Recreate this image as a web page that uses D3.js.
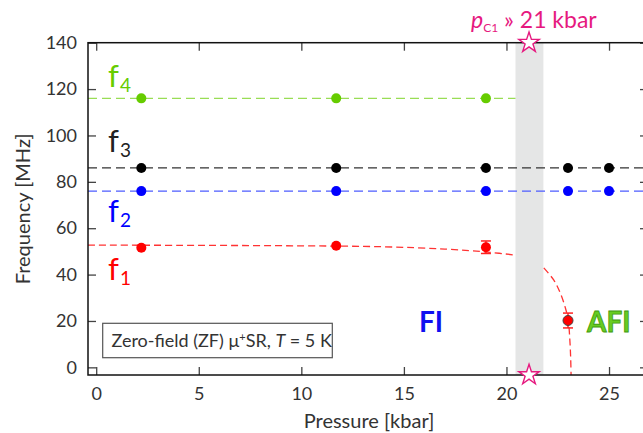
<!DOCTYPE html>
<html>
<head>
<meta charset="utf-8">
<script src="https://cdn.jsdelivr.net/npm/d3@7"></script>
<style>
  body { margin: 0; background: #fff; }
  svg { display: block; overflow: hidden; }
  text { font-family: Lato, "Open Sans", sans-serif; }
</style>
</head>
<body>
<script>
// values
const xTicks = [0, 5, 10, 15, 20, 25];
const yTicks = [0, 20, 40, 60, 80, 100, 120, 140];

const pressF4 = [2.2, 11.7, 19.0];
const valF4 = [116, 116, 116];
const pressF3 = [2.2, 11.7, 19.0, 23.0, 25.0];
const valF3 = [86, 86, 86, 86, 86];
const pressF2 = [2.2, 11.7, 19.0, 23.0, 25.0];
const valF2 = [76, 76, 76, 76, 76];
const pressF1 = [2.2, 11.7, 19.0, 23.0];
const valF1 = [51.6, 52.4, 51.8, 20.2];
const errF1 = [0, 0, 2.7, 3.2];

// fitted levels / curves
const levelF4 = 116, levelF3 = 86, levelF2 = 76;
const f1FitLowP = [-0.4, 5, 10, 14, 17, 19.2, 20.44];
const f1FitLowV = [52.7, 52.6, 52.4, 52.0, 51.0, 49.6, 48.4];
const f1FitHighP = [21.82, 22.31, 22.63, 22.88, 23.01, 23.09, 23.13, 23.15];
const f1FitHighV = [42.9, 37.6, 31.9, 25.4, 20.4, 11.8, 4.0, -3.3];

const bandRange = [20.44, 21.8];
const pc1 = 21.1;

const W = 643, H = 433;
const margin = { left: 88, top: 42.7, right: -5, bottom: 58 };
const xDomain = [-0.4, 26.9];
const yDomain = [-3.3, 140];

const svg = d3.select("body").append("svg")
    .attr("width", W)
    .attr("height", H);

const x = d3.scaleLinear().domain(xDomain).range([margin.left, W - margin.right]);
const y = d3.scaleLinear().domain(yDomain).range([H - margin.bottom, margin.top]);

// shaded transition band
svg.append("rect")
    .attr("x", x(bandRange[0]))
    .attr("y", y(yDomain[1]))
    .attr("width", x(bandRange[1]) - x(bandRange[0]))
    .attr("height", y(yDomain[0]) - y(yDomain[1]))
    .style("fill", "#e5e6e6");

// dashed fit lines
function hLine (level, x0, x1, color, dash) {
    svg.append("line")
        .attr("x1", x(x0)).attr("x2", x(x1))
        .attr("y1", y(level)).attr("y2", y(level))
        .style("stroke", color)
        .style("stroke-width", 1.4)
        .style("stroke-dasharray", dash);
}
hLine(levelF4, xDomain[0], bandRange[0], "#99dd55", "9,5");
hLine(levelF3, xDomain[0], xDomain[1], "#333", "9,5");
hLine(levelF2, xDomain[0], xDomain[1], "#4d5cff", "9,5");

var curve = d3.line()
    .x(function (d) { return x(d[0]); })
    .y(function (d) { return y(d[1]); })
    .curve(d3.curveCatmullRom);

[[f1FitLowP, f1FitLowV], [f1FitHighP, f1FitHighV]].forEach(function (s) {
    svg.append("path")
        .datum(d3.zip(s[0], s[1]))
        .attr("d", curve)
        .style("fill", "none")
        .style("stroke", "#ff3333")
        .style("stroke-width", 1.3)
        .style("stroke-dasharray", "7,4");
});

// axes (inward ticks)
const gx = svg.append("g").attr("transform", "translate(0," + y(yDomain[0]) + ")")
    .call(d3.axisBottom(x).tickValues(xTicks).tickSize(-8).tickPadding(12));
const gxTop = svg.append("g").attr("transform", "translate(0," + y(yDomain[1]) + ")")
    .call(d3.axisTop(x).tickValues(xTicks).tickSize(-8).tickFormat(""));
const gy = svg.append("g").attr("transform", "translate(" + x(xDomain[0]) + ",0)")
    .call(d3.axisLeft(y).tickValues(yTicks).tickSize(-8).tickPadding(11));
const gyRight = svg.append("g").attr("transform", "translate(" + x(xDomain[1]) + ",0)")
    .call(d3.axisRight(y).tickValues(yTicks).tickSize(-8).tickFormat(""));

[gx, gxTop, gy, gyRight].forEach(function (g) {
    g.select(".domain").remove();
    g.selectAll(".tick line").style("stroke", "#444").style("stroke-width", 1.3);
    g.selectAll(".tick text")
        .style("font-family", "Lato, sans-serif")
        .style("font-size", "18px")
        .style("fill", "#333");
});

svg.append("rect")
    .attr("x", x(xDomain[0]))
    .attr("y", y(yDomain[1]))
    .attr("width", x(xDomain[1]) - x(xDomain[0]))
    .attr("height", y(yDomain[0]) - y(yDomain[1]))
    .style("fill", "none")
    .style("stroke", "#111")
    .style("stroke-width", 1.5);

// error bars
pressF1.forEach(function (p, i) {
    if (!errF1[i]) return;
    var g = svg.append("g").style("stroke", "#ff2222").style("stroke-width", 1.5);
    g.append("line").attr("x1", x(p)).attr("x2", x(p))
        .attr("y1", y(valF1[i] - errF1[i])).attr("y2", y(valF1[i] + errF1[i]));
    [valF1[i] - errF1[i], valF1[i] + errF1[i]].forEach(function (v) {
        g.append("line").attr("x1", x(p) - 5).attr("x2", x(p) + 5)
            .attr("y1", y(v)).attr("y2", y(v));
    });
});

// points
function dots (ps, vs, color, stroke) {
    svg.append("g").selectAll("circle")
        .data(d3.zip(ps, vs))
        .join("circle")
        .attr("cx", function (d) { return x(d[0]); })
        .attr("cy", function (d) { return y(d[1]); })
        .attr("r", 5)
        .style("fill", color)
        .style("stroke", stroke || "none");
}
dots(pressF4, valF4, "#66cc00");
dots(pressF3, valF3, "#000");
dots(pressF2, valF2, "#0000ff");
dots(pressF1.slice(0, 3), valF1.slice(0, 3), "#ff0000");
dots(pressF1.slice(3), valF1.slice(3), "#ff0000", "#444");

// stars at p_C1
var star = d3.symbol().type(d3.symbolStar).size(130);
[yDomain[1], yDomain[0]].forEach(function (v) {
    svg.append("path")
        .attr("d", star)
        .attr("transform", "translate(" + x(pc1) + "," + y(v) + ")")
        .style("fill", "#fff")
        .style("stroke", "#e6197f")
        .style("stroke-width", 1.4);
});

// series labels
function fLabel (name, sub, px, py, color) {
    var t = svg.append("text")
        .attr("x", px).attr("y", py)
        .style("font-size", "31px")
        .style("fill", color);
    t.append("tspan").text(name);
    t.append("tspan").attr("dy", 5).attr("dx", 1).style("font-size", "19px").text(sub);
}
fLabel("f", "4", 108, 86.7, "#66cc00");
fLabel("f", "3", 108, 151.7, "#222");
fLabel("f", "2", 108, 221.7, "#0000ff");
fLabel("f", "1", 108, 280, "#ff0000");

// pc annotation
var ann = svg.append("text")
    .attr("x", 471).attr("y", 28.3)
    .style("font-size", "23px")
    .style("fill", "#e6197f");
ann.append("tspan").style("font-style", "italic").text("p");
ann.append("tspan").attr("dy", 3.4).style("font-size", "12px").text("C1");
ann.append("tspan").attr("dy", -3.4).text(" » 21 kbar");

// phase labels
svg.append("text")
    .attr("x", 419).attr("y", 331.5)
    .style("font-size", "28px")
    .style("font-weight", "bold")
    .style("fill", "#1010f0")
    .text("FI");
svg.append("text")
    .attr("x", 587).attr("y", 331.5)
    .style("font-size", "28px")
    .style("font-weight", "bold")
    .style("fill", "#66cc22")
    .style("stroke", "#3f9a10")
    .style("stroke-width", 0.8)
    .text("AFI");

// info box
svg.append("rect")
    .attr("x", 102.7).attr("y", 323.3)
    .attr("width", 229.6).attr("height", 34.4)
    .style("fill", "#fff")
    .style("stroke", "#555")
    .style("stroke-width", 1.2);
var box = svg.append("text")
    .attr("x", 111.5).attr("y", 346.5)
    .style("font-size", "18px")
    .style("fill", "#333");
box.append("tspan").text("Zero-field (ZF) μ");
box.append("tspan").attr("dy", -6).style("font-size", "11px").text("+");
box.append("tspan").attr("dy", 6).text("SR, ");
box.append("tspan").style("font-style", "italic").text("T");
box.append("tspan").text(" = 5 K");

// axis titles
svg.append("text")
    .attr("x", 369).attr("y", 428)
    .attr("text-anchor", "middle")
    .style("font-size", "20px")
    .style("fill", "#333")
    .text("Pressure [kbar]");
svg.append("text")
    .attr("transform", "translate(30," + (y(yDomain[0]) + y(yDomain[1])) / 2 + ") rotate(-90)")
    .attr("text-anchor", "middle")
    .style("font-size", "20px")
    .style("fill", "#333")
    .text("Frequency [MHz]");
</script>
</body>
</html>
